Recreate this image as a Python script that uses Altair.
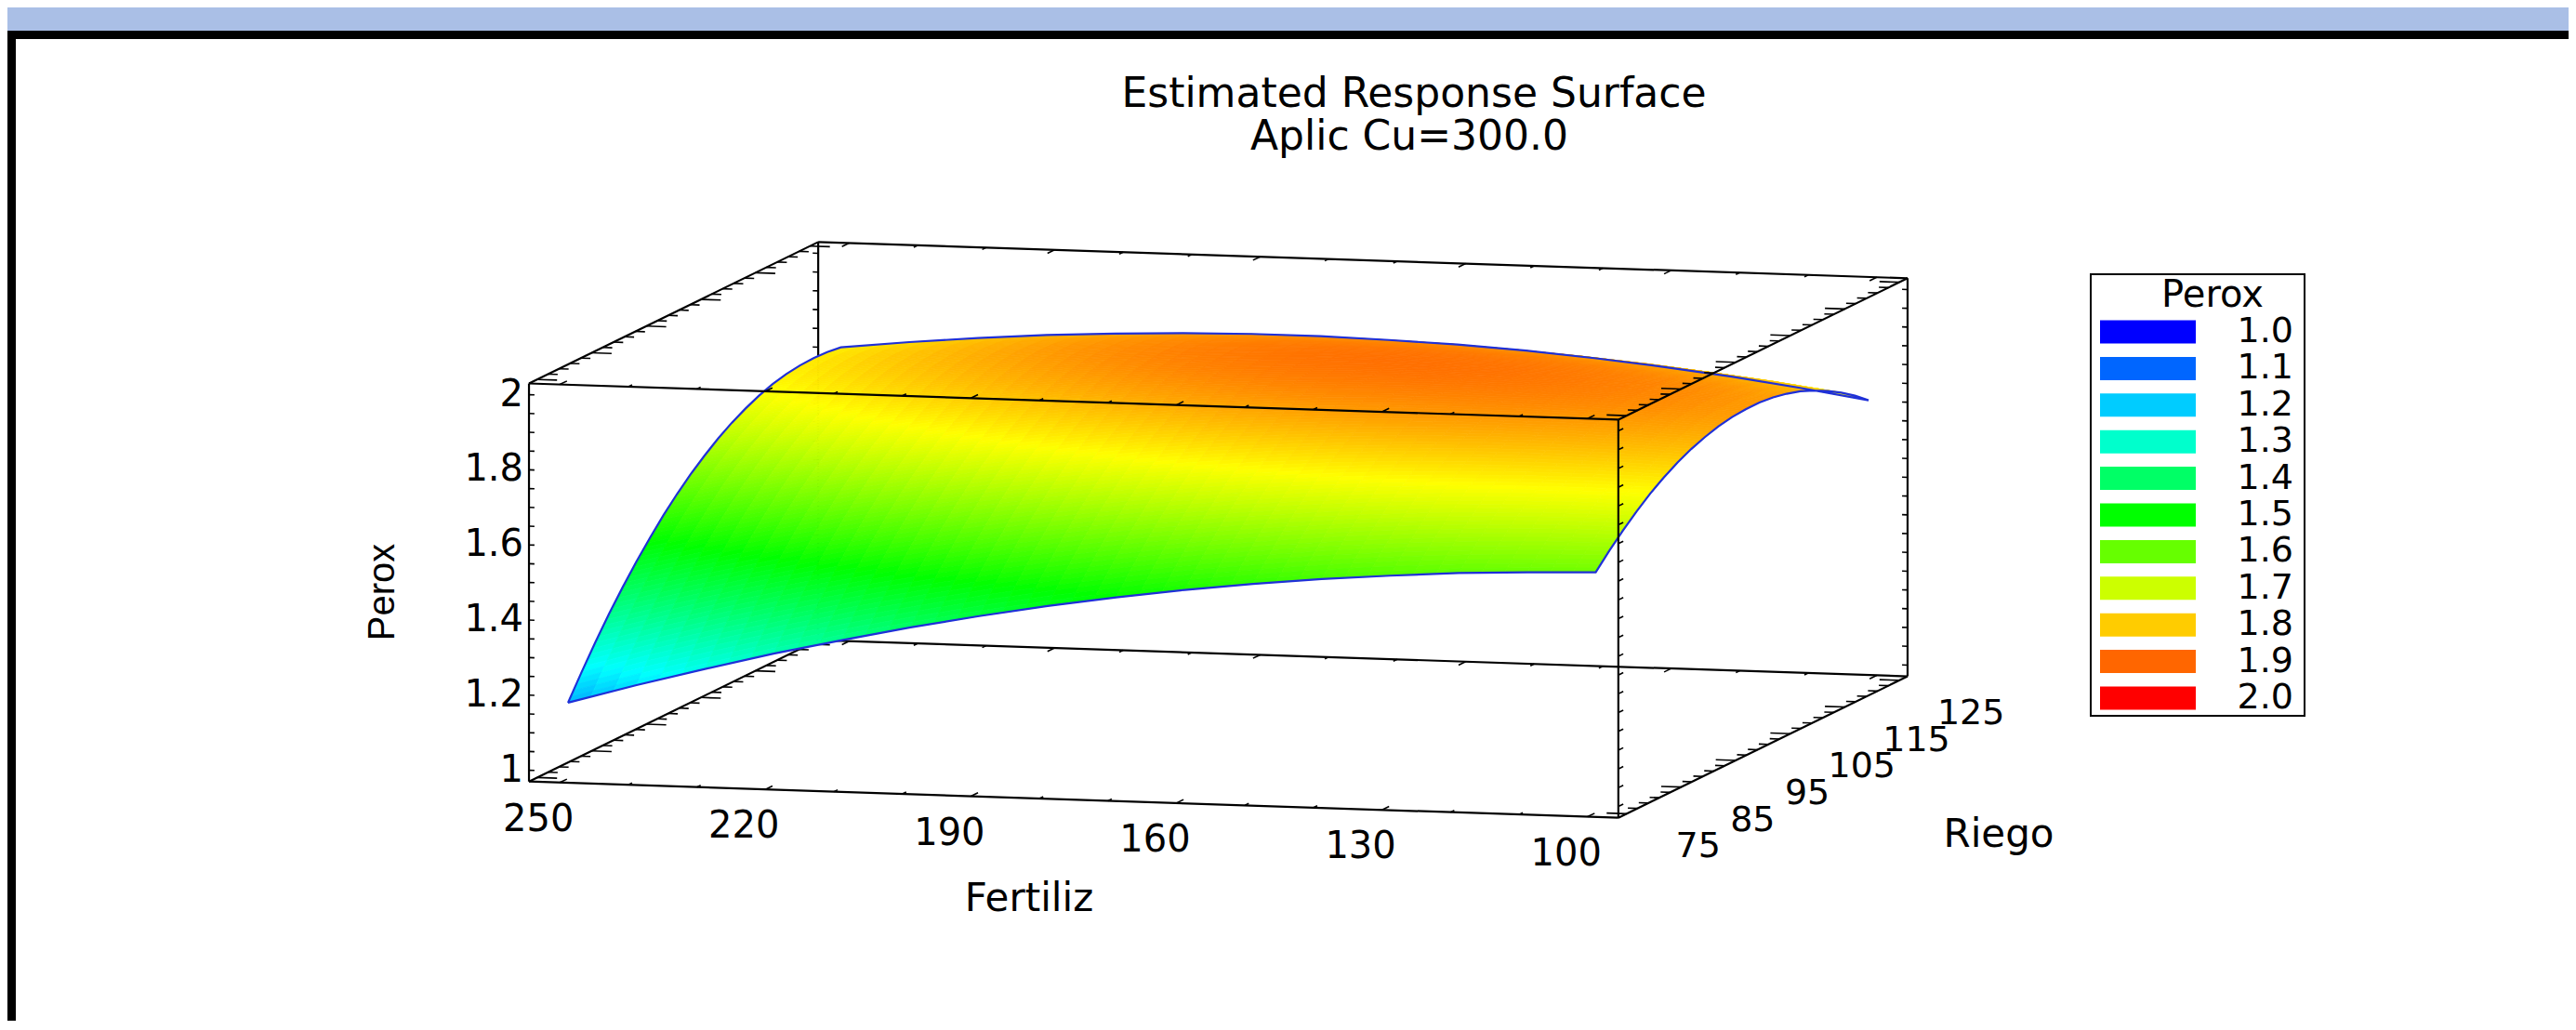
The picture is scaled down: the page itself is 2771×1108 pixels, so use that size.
import altair as alt
import pandas as pd

W, H = 2755, 1090

# ---- values ---------------------------
fertiliz = [250, 240, 230, 220, 210, 200, 190, 180, 170, 160, 150, 140, 130, 120, 110, 100]
riego = [75, 77.5, 80, 82.5, 85, 87.5, 90, 92.5, 95, 97.5, 100, 102.5, 105, 107.5, 110, 112.5, 115, 117.5, 120, 122.5, 125]
perox = [
 [1.172,1.225,1.274,1.321,1.363,1.403,1.439,1.472,1.501,1.527,1.549,1.568,1.583,1.596,1.604,1.610],
 [1.236,1.288,1.336,1.380,1.422,1.459,1.494,1.525,1.552,1.577,1.597,1.615,1.629,1.639,1.646,1.650],
 [1.297,1.347,1.394,1.436,1.476,1.512,1.545,1.574,1.600,1.623,1.642,1.658,1.670,1.679,1.684,1.686],
 [1.355,1.403,1.448,1.489,1.527,1.561,1.593,1.620,1.645,1.666,1.683,1.697,1.708,1.715,1.719,1.719],
 [1.408,1.455,1.498,1.538,1.574,1.607,1.637,1.663,1.685,1.705,1.720,1.733,1.742,1.748,1.750,1.749],
 [1.458,1.503,1.545,1.583,1.617,1.649,1.677,1.701,1.722,1.740,1.754,1.765,1.772,1.776,1.777,1.774],
 [1.504,1.548,1.588,1.624,1.657,1.687,1.713,1.736,1.755,1.771,1.784,1.793,1.799,1.801,1.800,1.796],
 [1.547,1.588,1.627,1.662,1.693,1.721,1.746,1.767,1.785,1.799,1.810,1.818,1.822,1.823,1.820,1.814],
 [1.586,1.626,1.662,1.696,1.725,1.752,1.775,1.794,1.811,1.823,1.833,1.839,1.841,1.840,1.836,1.828],
 [1.621,1.659,1.694,1.726,1.754,1.779,1.800,1.818,1.833,1.844,1.852,1.856,1.857,1.854,1.848,1.839],
 [1.652,1.689,1.722,1.752,1.779,1.802,1.822,1.838,1.851,1.861,1.867,1.869,1.869,1.865,1.857,1.846],
 [1.680,1.715,1.747,1.775,1.800,1.822,1.840,1.854,1.866,1.874,1.878,1.879,1.877,1.871,1.862,1.849],
 [1.704,1.737,1.768,1.794,1.818,1.837,1.854,1.867,1.877,1.883,1.886,1.885,1.881,1.874,1.863,1.849],
 [1.724,1.756,1.785,1.810,1.831,1.850,1.865,1.876,1.884,1.889,1.890,1.888,1.882,1.873,1.861,1.845],
 [1.741,1.771,1.798,1.821,1.841,1.858,1.871,1.881,1.888,1.891,1.890,1.886,1.879,1.869,1.855,1.837],
 [1.754,1.782,1.808,1.829,1.848,1.863,1.875,1.883,1.888,1.889,1.887,1.881,1.873,1.860,1.845,1.826],
 [1.763,1.790,1.813,1.834,1.851,1.864,1.874,1.881,1.884,1.884,1.880,1.873,1.862,1.848,1.831,1.810],
 [1.768,1.794,1.816,1.834,1.850,1.861,1.870,1.875,1.876,1.874,1.869,1.860,1.848,1.833,1.814,1.791],
 [1.770,1.794,1.814,1.831,1.845,1.855,1.862,1.865,1.865,1.862,1.855,1.844,1.830,1.813,1.793,1.769],
 [1.768,1.790,1.809,1.824,1.836,1.845,1.850,1.852,1.850,1.845,1.836,1.824,1.809,1.790,1.768,1.743],
 [1.763,1.783,1.800,1.814,1.824,1.831,1.835,1.835,1.831,1.825,1.815,1.801,1.784,1.764,1.740,1.713],
]
legend_values = [1.0, 1.1, 1.2, 1.3, 1.4, 1.5, 1.6, 1.7, 1.8, 1.9, 2.0]
color_domain = [1.0, 1.1, 1.2, 1.25, 1.3, 1.4, 1.5, 1.6, 1.7, 1.75, 1.8, 1.9, 2.0]
color_range = ["#0000ff", "#0066ff", "#00ccff", "#00ffff", "#00ffcc", "#00ff66", "#00ff00",
               "#66ff00", "#ccff00", "#ffff00", "#ffcc00", "#ff6600", "#ff0000"]
f_labels = [250, 220, 190, 160, 130, 100]
r_labels = [75, 85, 95, 105, 115, 125]
p_labels = ["1", "1.2", "1.4", "1.6", "1.8", "2"]
F_BOX = (254.5, 95.5)
R_BOX = (73.5, 126.5)
P_BOX = (0.97, 2.03)


def proj(f, r, p):
    """Parallel view of the 3D box, in page pixels."""
    x = 611 + 7.37 * (250 - f) + 5.87 * (r - 75)
    y = 825.4 + 0.245 * (250 - f) - 2.87 * (r - 75) - 404 * (p - 1)
    return x, y


px = alt.Scale(domain=[8, 8 + W], range=[0, W], nice=False, zero=False)
py = alt.Scale(domain=[8, 8 + H], range=[0, H], nice=False, zero=False)
cs = alt.Scale(domain=color_domain, range=color_range, interpolate="rgb")
X = alt.X("x:Q", scale=px, axis=None)
Y = alt.Y("y:Q", scale=py, axis=None)


def segs(rows, width, color="black"):
    return alt.Chart(pd.DataFrame(rows, columns=["x", "y", "x2", "y2"])).mark_rule(
        strokeWidth=width, color=color
    ).encode(x=X, y=Y, x2="x2:Q", y2="y2:Q")


def seg(a, b):
    return [*proj(*a), *proj(*b)]


# ---- surface: each grid cell is shaded in small facets, painted back to front ----
SHADE_F, SHADE_R = 3, 5


def facet_point(i, j, a, b):
    u, v = a / SHADE_F, b / SHADE_R
    i2, j2 = min(i + 1, 15), min(j + 1, 20)
    f = fertiliz[i] + (fertiliz[i2] - fertiliz[i]) * u
    r = riego[j] + (riego[j2] - riego[j]) * v
    p = (perox[j][i] * (1 - u) * (1 - v) + perox[j][i2] * u * (1 - v)
         + perox[j2][i] * (1 - u) * v + perox[j2][i2] * u * v)
    return f, r, p


features = []
for j in range(len(riego) - 2, -1, -1):
    for b in range(SHADE_R - 1, -1, -1):
        for i in range(len(fertiliz) - 1):
            for a in range(SHADE_F):
                corners = [facet_point(i, j, a, b), facet_point(i, j, a + 1, b),
                           facet_point(i, j, a + 1, b + 1), facet_point(i, j, a, b + 1)]
                ring = [[proj(*c)[0] - 8, proj(*c)[1] - 8] for c in corners]
                ring.append(ring[0])
                features.append({
                    "type": "Feature",
                    "geometry": {"type": "Polygon", "coordinates": [ring]},
                    "properties": {},
                    "P": round(sum(c[2] for c in corners) / 4, 4),
                })
surface = alt.Chart(alt.Data(values=features)).mark_geoshape(strokeWidth=0.8).encode(
    fill=alt.Fill("P:Q", scale=cs, legend=None),
    stroke=alt.Stroke("P:Q", scale=cs, legend=None),
).project(type="identity", scale=1, translate=[0, 0])

# ---- outline of the surface ----
edge = [(i, 0) for i in range(16)] + [(15, j) for j in range(1, 21)] + \
       [(i, 20) for i in range(14, -1, -1)] + [(0, j) for j in range(19, -1, -1)]
outline_rows = []
for n, (i, j) in enumerate(edge):
    x, y = proj(fertiliz[i], riego[j], perox[j][i])
    outline_rows.append({"x": x, "y": y, "n": n})
outline = alt.Chart(pd.DataFrame(outline_rows)).mark_line(color="#1f30d8", strokeWidth=2.2).encode(
    x=X, y=Y, order="n:Q"
)

# ---- box edges ----
Fa, Fb = F_BOX
Ra, Rb = R_BOX
Pa, Pb = P_BOX
back_edges = [
    seg((Fa, Rb, Pa), (Fa, Rb, Pb)),
    seg((Fa, Rb, Pa), (Fb, Rb, Pa)),
    seg((Fa, Ra, Pa), (Fa, Rb, Pa)),
]
front_edges = [
    seg((Fa, Ra, Pa), (Fa, Ra, Pb)),
    seg((Fb, Ra, Pa), (Fb, Ra, Pb)),
    seg((Fb, Rb, Pa), (Fb, Rb, Pb)),
    seg((Fa, Ra, Pa), (Fb, Ra, Pa)),
    seg((Fa, Ra, Pb), (Fb, Ra, Pb)),
    seg((Fa, Rb, Pb), (Fb, Rb, Pb)),
    seg((Fa, Ra, Pb), (Fa, Rb, Pb)),
    seg((Fb, Ra, Pb), (Fb, Rb, Pb)),
    seg((Fb, Ra, Pa), (Fb, Rb, Pa)),
]

# ---- ticks ----
back_ticks, front_ticks = [], []
for idx, f in enumerate(range(250, 99, -10)):
    ln = 1.3 if idx % 3 == 0 else 0.7
    front_ticks.append(seg((f, Ra, Pa), (f, Ra + ln, Pa)))
    front_ticks.append(seg((f, Ra, Pb), (f, Ra + ln, Pb)))
    front_ticks.append(seg((f, Rb, Pb), (f, Rb - ln, Pb)))
    back_ticks.append(seg((f, Rb, Pa), (f, Rb - ln, Pa)))
for idx, r in enumerate(range(75, 126, 2)):
    ln = 2.9 if idx % 5 == 0 else 1.4
    back_ticks.append(seg((Fa, r, Pa), (Fa - ln, r, Pa)))
    front_ticks.append(seg((Fa, r, Pb), (Fa - ln, r, Pb)))
    front_ticks.append(seg((Fb, r, Pb), (Fb + ln, r, Pb)))
    front_ticks.append(seg((Fb, r, Pa), (Fb + ln, r, Pa)))
for k in range(21):
    p = 1 + k * 0.05
    front_ticks.append(seg((Fa, Ra, p), (Fa - 0.8, Ra, p)))
    front_ticks.append(seg((Fb, Ra, p), (Fb, Ra + 0.9, p)))
    front_ticks.append(seg((Fb, Rb, p), (Fb + 0.8, Rb, p)))
    back_ticks.append(seg((Fa, Rb, p), (Fa + 0.8, Rb, p)))

# ---- frame ----
frame = pd.DataFrame(
    [
        {"x": 8, "x2": 8 + W, "y": 8, "y2": 33, "c": "#aabfe6"},
        {"x": 8, "x2": 8 + W, "y": 33, "y2": 42, "c": "#000000"},
        {"x": 8, "x2": 17, "y": 33, "y2": 8 + H, "c": "#000000"},
    ]
)
frame_layer = alt.Chart(frame).mark_rect().encode(
    x=X, y=Y, x2="x2:Q", y2="y2:Q", color=alt.Color("c:N", scale=None, legend=None)
)


def texts(rows, size, font="DejaVu Sans", align="center", angle=0):
    kw = {"angle": angle} if angle else {}
    return alt.Chart(pd.DataFrame(rows, columns=["x", "y", "t"])).mark_text(
        fontSize=size, font=font, align=align, baseline="middle", color="black", **kw
    ).encode(x=X, y=Y, text="t:N")


title_layer = texts(
    [[1521, 102, "Estimated Response Surface"], [1516, 148, "Aplic Cu=300.0"]], 44
)
p_rows = []
for lab in p_labels:
    x, y = proj(Fa, Ra, float(lab))
    p_rows.append([x - 6, y, lab])
f_rows = []
for v in f_labels:
    x, y = proj(v, Ra, Pa)
    f_rows.append([x - 23, y + 40, str(v)])
r_rows = []
for v in r_labels:
    x, y = proj(Fb, v, Pa)
    r_rows.append([x + 77, y + 36, str(v)])
tick_labels = [
    texts(p_rows, 40, align="right"),
    texts(f_rows, 40),
    texts(r_rows, 38),
]
axis_titles = [
    texts([[1107, 967, "Fertiliz"]], 42),
    texts([[2150, 898, "Riego"]], 42),
    texts([[412, 637, "Perox"]], 40, font="Liberation Sans", angle=270),
]

# ---- legend ----
leg_box = alt.Chart(pd.DataFrame([{"x": 2249, "x2": 2479, "y": 295, "y2": 770}])).mark_rect(
    fill="white", stroke="black", strokeWidth=2
).encode(x=X, y=Y, x2="x2:Q", y2="y2:Q")
leg_rows = [
    {"v": v, "x": 2259, "x2": 2362, "y": 357 + 39.4 * n - 12.5, "y2": 357 + 39.4 * n + 12.5,
     "lx": 2467, "ly": 357 + 39.4 * n, "t": f"{v:.1f}"}
    for n, v in enumerate(legend_values)
]
leg_df = pd.DataFrame(leg_rows)
leg_swatch = alt.Chart(leg_df).mark_rect().encode(
    x=X, y=Y, x2="x2:Q", y2="y2:Q", fill=alt.Fill("v:Q", scale=cs, legend=None)
)
leg_text = alt.Chart(leg_df).mark_text(
    fontSize=38, font="DejaVu Sans", align="right", baseline="middle", color="black"
).encode(x=alt.X("lx:Q", scale=px, axis=None), y=alt.Y("ly:Q", scale=py, axis=None), text="t:N")
leg_title = texts([[2380, 318, "Perox"]], 40)

chart = alt.layer(
    frame_layer,
    segs(back_edges, 2.2),
    segs(back_ticks, 1.6),
    surface,
    outline,
    segs(front_edges, 2.2),
    segs(front_ticks, 1.6),
    title_layer,
    *tick_labels,
    *axis_titles,
    leg_box,
    leg_swatch,
    leg_text,
    leg_title,
).properties(
    width=W, height=H, padding=0, autosize=alt.AutoSizeParams(type="none"), background="white"
).configure_view(stroke=None)

chart.save("out.html", embed_options={"renderer": "svg", "actions": False})
